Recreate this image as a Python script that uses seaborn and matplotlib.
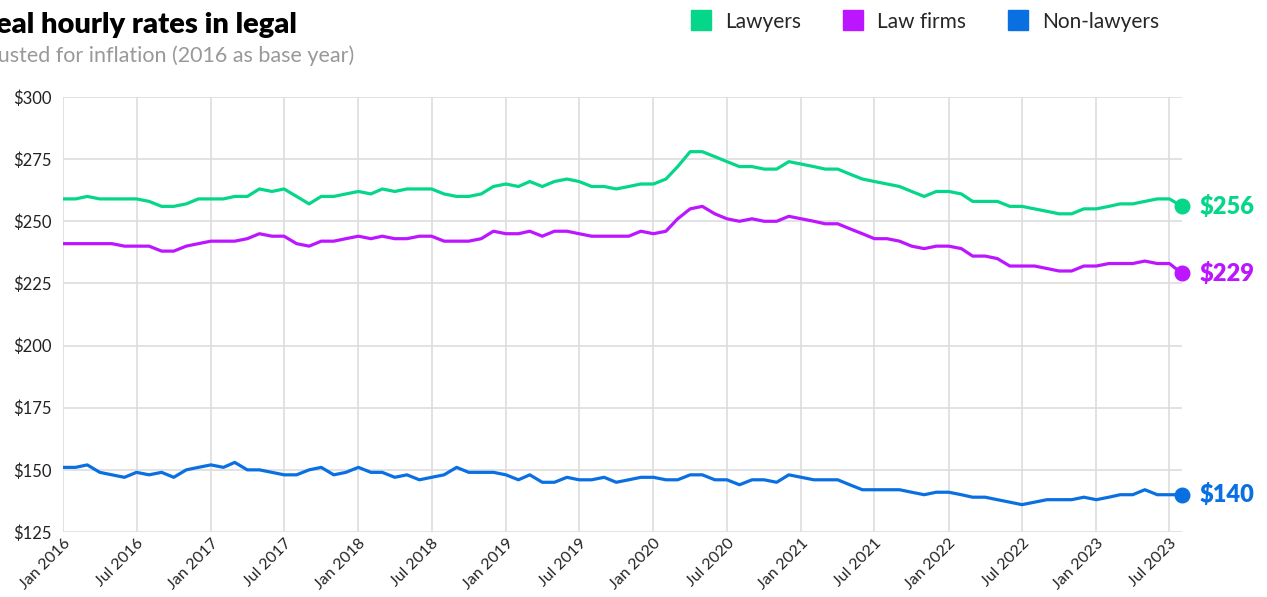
import pandas as pd
import matplotlib.pyplot as plt
import matplotlib.dates as mdates
from matplotlib.lines import Line2D
import seaborn as sns

# Monthly series, Jan 2016 - Aug 2023
months = pd.date_range("2016-01-01", "2023-08-01", freq="MS")

lawyers = [
    259, 259, 260, 259, 259, 259, 259, 258, 256, 256,
    257, 259, 259, 259, 260, 260, 263, 262, 263, 260,
    257, 260, 260, 261, 262, 261, 263, 262, 263, 263,
    263, 261, 260, 260, 261, 264, 265, 264, 266, 264,
    266, 267, 266, 264, 264, 263, 264, 265, 265, 267,
    272, 278, 278, 276, 274, 272, 272, 271, 271, 274,
    273, 272, 271, 271, 269, 267, 266, 265, 264, 262,
    260, 262, 262, 261, 258, 258, 258, 256, 256, 255,
    254, 253, 253, 255, 255, 256, 257, 257, 258, 259,
    259, 256,
]
law_firms = [
    241, 241, 241, 241, 241, 240, 240, 240, 238, 238,
    240, 241, 242, 242, 242, 243, 245, 244, 244, 241,
    240, 242, 242, 243, 244, 243, 244, 243, 243, 244,
    244, 242, 242, 242, 243, 246, 245, 245, 246, 244,
    246, 246, 245, 244, 244, 244, 244, 246, 245, 246,
    251, 255, 256, 253, 251, 250, 251, 250, 250, 252,
    251, 250, 249, 249, 247, 245, 243, 243, 242, 240,
    239, 240, 240, 239, 236, 236, 235, 232, 232, 232,
    231, 230, 230, 232, 232, 233, 233, 233, 234, 233,
    233, 229,
]
non_lawyers = [
    151, 151, 152, 149, 148, 147, 149, 148, 149, 147,
    150, 151, 152, 151, 153, 150, 150, 149, 148, 148,
    150, 151, 148, 149, 151, 149, 149, 147, 148, 146,
    147, 148, 151, 149, 149, 149, 148, 146, 148, 145,
    145, 147, 146, 146, 147, 145, 146, 147, 147, 146,
    146, 148, 148, 146, 146, 144, 146, 146, 145, 148,
    147, 146, 146, 146, 144, 142, 142, 142, 142, 141,
    140, 141, 141, 140, 139, 139, 138, 137, 136, 137,
    138, 138, 138, 139, 138, 139, 140, 140, 142, 140,
    140, 140,
]

series_names = ["Lawyers", "Law firms", "Non-lawyers"]
colors = {"Lawyers": "#05D68A", "Law firms": "#BB16FF", "Non-lawyers": "#0A70E2"}

df = pd.concat([
    pd.DataFrame({"month": months, "rate": vals, "series": name})
    for name, vals in zip(series_names, [lawyers, law_firms, non_lawyers])
])

sns.set_theme(style="white")
plt.rcParams["font.family"] = ["Lato", "DejaVu Sans"]

fig = plt.figure(figsize=(12.67, 5.97), dpi=100)
ax = fig.add_axes([63 / 1267, 1 - 532 / 597, (1182 - 63) / 1267, (532 - 97) / 597])

sns.lineplot(data=df, x="month", y="rate", hue="series", palette=colors,
             linewidth=2.3, legend=False, ax=ax)

# end points and value labels
last = df[df["month"] == months[-1]]
for _, row in last.iterrows():
    c = colors[row["series"]]
    ax.scatter(row["month"], row["rate"], s=110, color=c, zorder=5, clip_on=False)
    ax.annotate(f"${row['rate']}", (row["month"], row["rate"]), xytext=(13, 0),
                textcoords="offset points", va="center", ha="left",
                fontsize=17, fontweight="heavy", color=c, annotation_clip=False)

ax.set_xlim(months[0], months[-1])
ax.set_ylim(125, 300)
ax.set_yticks(range(125, 301, 25))
ax.yaxis.set_major_formatter(lambda v, p: f"${v:.0f}")
ax.xaxis.set_major_locator(mdates.MonthLocator(bymonth=[1, 7]))
ax.xaxis.set_major_formatter(mdates.DateFormatter("%b %Y"))
ax.set_xlabel("")
ax.set_ylabel("")
ax.grid(True, color="#dddddd", linewidth=1.2)
for s in ax.spines.values():
    s.set_visible(False)
ax.tick_params(axis="y", length=0, labelsize=12, colors="#222222", pad=8)
ax.tick_params(axis="x", length=0, labelsize=11.5, colors="#222222", pad=3)
plt.setp(ax.get_xticklabels(), rotation=45, ha="right", rotation_mode="anchor")

# title block (left part runs off the canvas, as in the source)
fig.text(297 / 1267, 1 - 33 / 597, "Real hourly rates in legal", ha="right",
         va="baseline", fontsize=21, fontweight="heavy", color="black")
fig.text(354 / 1267, 1 - 62 / 597, "Adjusted for inflation (2016 as base year)",
         ha="right", va="baseline", fontsize=15.5, color="#999999")

handles = [Line2D([], [], marker="s", linestyle="", markersize=14, color=colors[n])
           for n in series_names]
fig.legend(handles, series_names, loc="upper right", bbox_to_anchor=(1178 / 1267, 1.012),
           ncol=3, frameon=False, fontsize=15, handletextpad=0.15, columnspacing=1.5)

fig.savefig("out.png", dpi=100)
